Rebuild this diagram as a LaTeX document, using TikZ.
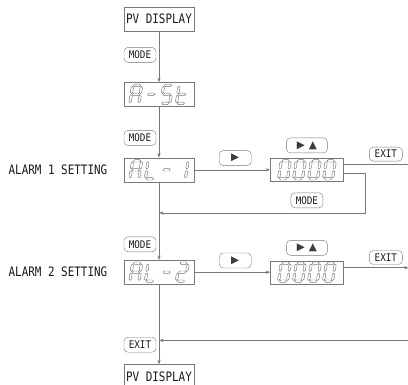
\documentclass[tikz,border=0pt]{standalone}
\usepackage{fontspec}
\usepackage{tikz}
\usetikzlibrary{arrows.meta,positioning,calc}
\newfontfamily\boxfont[FakeStretch=0.84]{DejaVu Sans Mono}
\newfontfamily\keyfont[FakeStretch=0.88]{DejaVu Sans Mono}
\newfontfamily\symfont{DejaVu Sans}
\definecolor{linegray}{RGB}{120,120,120}
\definecolor{segcolor}{RGB}{115,115,115}
\definecolor{symgray}{RGB}{60,60,60}
\definecolor{textcolor}{RGB}{25,25,25}

% seven segment pieces
\newcommand\hseg[2]{\draw[segstroke] (#1-3.6,#2) -- ++(1.2,-1.2) -- ++(4.8,0) -- ++(1.2,1.2) -- ++(-1.2,1.2) -- ++(-4.8,0) -- cycle;}
\newcommand\vseg[2]{\draw[segstroke] (#1,#2-3.7) -- ++(1.2,1.2) -- ++(0,5) -- ++(-1.2,1.2) -- ++(-1.2,-1.2) -- ++(0,-5) -- cycle;}
\newcommand\lcdsega{\hseg{0}{-9}}
\newcommand\lcdsegb{\vseg{4.5}{-4.5}}
\newcommand\lcdsegc{\vseg{4.5}{4.5}}
\newcommand\lcdsegd{\hseg{0}{9}}
\newcommand\lcdsege{\vseg{-4.5}{4.5}}
\newcommand\lcdsegf{\vseg{-4.5}{-4.5}}
\newcommand\lcdsegg{\hseg{0}{0}}
\newcommand\lcddigit[3]{%
  \begin{scope}[shift={(#1.center)}, shift={(#2,0)}, xslant=0.15]
    \foreach \s in {#3} {\csname lcdseg\s\endcsname}
  \end{scope}}

\begin{document}
\begin{tikzpicture}[
    x=1pt, y=-1pt,
    panel/.style={draw=linegray, minimum width=70pt, minimum height=24pt, inner sep=0pt, font=\boxfont\fontsize{13}{13}\selectfont, text=textcolor},
    readout/.style={draw=linegray, minimum width=73pt, minimum height=23pt, inner sep=0pt},
    button/.style={draw=linegray, rounded corners=4pt, minimum width=32pt, minimum height=15pt, inner sep=0pt, font=\keyfont\fontsize{10.5}{10.5}\selectfont, text=textcolor},
    segstroke/.style={draw=segcolor, line width=0.45pt, line join=round},
    wire/.style={draw=linegray, line width=0.55pt},
    flow/.style={wire, -{Stealth[length=4.5pt,width=3.2pt]}},
    sidetext/.style={font=\boxfont\fontsize{13}{13}\selectfont, text=textcolor}
]
\useasboundingbox (0,0) rectangle (408,384);

% Main column
\node[panel] (pv1) at (159,19) {PV DISPLAY};
\node[panel, below=51pt of pv1] (ast) {};
\node[panel, below=51pt of ast] (al1) {};
\node[panel, below=78pt of al1] (al2) {};
\node[panel, below=80pt of al2] (pv2) {PV DISPLAY};

% Side labels
\node[sidetext, left=13pt of al1] (al1text) {ALARM 1 SETTING};
\node[sidetext, left=13pt of al2] (al2text) {ALARM 2 SETTING};

% Value displays
\node[readout, right=76pt of al1] (val1) {};
\node[readout, right=76pt of al2] (val2) {};

% Segment digits
\lcddigit{ast}{-23.25}{a,b,c,e,f,g}
\lcddigit{ast}{-7.75}{g}
\lcddigit{ast}{7.75}{a,f,g,c,d}
\lcddigit{ast}{23.25}{f,e,g,d}
\lcddigit{al1}{-23.25}{a,b,c,e,f,g}
\lcddigit{al1}{-7.75}{f,e,d}
\lcddigit{al1}{7.75}{g}
\lcddigit{al1}{23.25}{b,c}
\lcddigit{al2}{-23.25}{a,b,c,e,f,g}
\lcddigit{al2}{-7.75}{f,e,d}
\lcddigit{al2}{7.75}{g}
\lcddigit{al2}{23.25}{a,b,g,e,d}
\foreach \dx in {-22.5,-7.5,7.5,22.5} {
  \lcddigit{val1}{\dx}{a,b,c,d,e,f}
  \lcddigit{val2}{\dx}{a,b,c,d,e,f}
}

% Keys on the main column
\node[button, below right=16pt and 0pt of pv1.south west] (mode1) {MODE};
\node[button, above right=12pt and 0pt of al1.north west] (mode2) {MODE};
\node[button, above right=8pt and 0pt of al2.north west] (mode3) {MODE};
\node[button, above right=12pt and 0pt of pv2.north west] (exit3) {EXIT};

% Arrows - main flow
\draw[flow] (pv1) -- (ast);
\draw[flow] (ast) -- (al1);
\draw[flow] (al1) -- (al2);
\draw[flow] (al2) -- (pv2);
\draw[flow] (al1) -- (val1);
\draw[flow] (al2) -- (val2);

% Alarm 1 row
\coordinate (mid1) at ($(al1.east)!0.54!(val1.west)$);
\node[button, above=4pt of mid1] (next1) {\symfont\fontsize{10.5}{10.5}\selectfont\color{symgray}▶};
\node[button, minimum width=41pt, above=5pt of val1] (adj1) {\symfont\fontsize{10.5}{10.5}\selectfont\color{symgray}▶\hspace{4pt}▲};
\coordinate (back1) at ($(val1.east)+(22,3.5)$);
\coordinate (ret1) at ($(al1.south)+(0,31)$);
\draw[flow] (back1 -| val1.east) -- (back1) |- (ret1);
\coordinate (mid3) at (ret1 -| val1.south);
\node[button, above=5pt of mid3] (mode4) {MODE};
\coordinate (out1) at ($(val1.east)+(65,-5.5)$);
\draw[wire] (out1 -| val1.east) -- (out1);
\coordinate (exitpt1) at ($(out1 -| val1.east)!0.65!(out1)$);
\node[button, minimum width=33pt, minimum height=14pt, above=3pt of exitpt1] (exit1) {EXIT};

% Alarm 2 row
\coordinate (mid2) at ($(al2.east)!0.54!(val2.west)$);
\node[button, above=4pt of mid2] (next2) {\symfont\fontsize{10.5}{10.5}\selectfont\color{symgray}▶};
\node[button, minimum width=41pt, above=5pt of val2] (adj2) {\symfont\fontsize{10.5}{10.5}\selectfont\color{symgray}▶\hspace{4pt}▲};
\coordinate (out2) at ($(val2.east)+(65,-4.5)$);
\draw[flow] (out2 -| val2.east) -- (out2);
\coordinate (exitpt2) at ($(out2 -| val2.east)!0.65!(out2)$);
\node[button, minimum width=33pt, minimum height=14pt, above=3pt of exitpt2] (exit2) {EXIT};

% Return from exit
\coordinate (in3) at ($(pv2.north)+(249,-24)$);
\draw[flow] (in3) -- (in3 -| pv2.north);

\end{tikzpicture}
\end{document}
